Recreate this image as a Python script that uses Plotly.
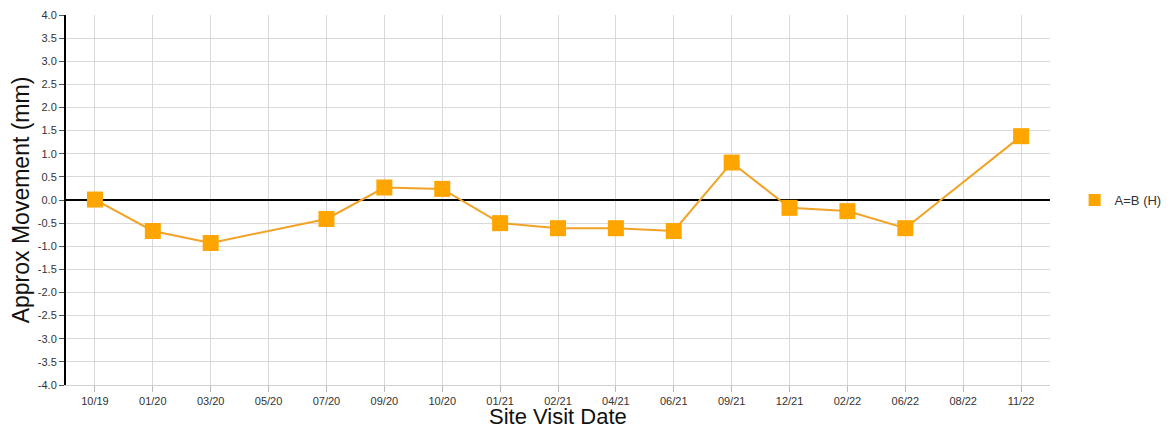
import plotly.graph_objects as go

categories = ["10/19", "01/20", "03/20", "05/20", "07/20", "09/20", "10/20", "01/21",
              "02/21", "04/21", "06/21", "09/21", "12/21", "02/22", "06/22", "08/22", "11/22"]
values = [0.01, -0.67, -0.93, None, -0.41, 0.27, 0.24, -0.50,
          -0.61, -0.61, -0.67, 0.81, -0.17, -0.24, -0.61, None, 1.38]
y_ticks = [-4.0 + 0.5 * i for i in range(17)]
y_ticktext = ["%.1f" % v for v in y_ticks]
series_name = "A=B (H)"
x_title = "Site Visit Date"
y_title = "Approx Movement (mm)"

fig = go.Figure()
fig.add_trace(go.Scatter(
    x=categories, y=values, name=series_name, mode="lines+markers",
    connectgaps=True, showlegend=False,
    line=dict(color="#F2A227", width=2),
    marker=dict(symbol="square", size=16, color="#FFA500"),
))
# legend entry (marker only, as in the reference)
fig.add_trace(go.Scatter(
    x=[None], y=[None], name=series_name, mode="markers",
    marker=dict(symbol="square", size=16, color="#FFA500"),
))

# page body has an 8px margin; figure sized so the page is exactly 1173x435
fig.update_layout(
    width=1157, height=419,
    margin=dict(l=58, r=115, t=7, b=42, autoexpand=False),
    paper_bgcolor="white", plot_bgcolor="white",
    font=dict(family="Liberation Sans, Arial, sans-serif", color="#333"),
    showlegend=True,
    legend=dict(x=1.025, y=0.5, xanchor="left", yanchor="middle",
                font=dict(size=13, color="#333"), itemsizing="constant"),
    xaxis=dict(
        type="category", categoryorder="array", categoryarray=categories,
        range=[-0.5, 16.5], automargin=False,
        showgrid=True, gridcolor="#D9D9D9", gridwidth=1,
        showline=True, linecolor="#D0D0D0", linewidth=1,
        ticks="outside", ticklen=6, tickcolor="#BBBBBB",
        tickfont=dict(size=11, color="#333"),
        zeroline=False,
    ),
    yaxis=dict(
        range=[-4, 4], tickvals=y_ticks, ticktext=y_ticktext, automargin=False,
        showgrid=True, gridcolor="#D9D9D9", gridwidth=1,
        showline=True, linecolor="#000", linewidth=2,
        ticks="outside", ticklen=5, tickcolor="#555",
        tickfont=dict(size=11, color="#333"),
        title=dict(text=y_title, font=dict(size=23, color="#111"), standoff=6),
        zeroline=True, zerolinecolor="#000", zerolinewidth=2,
    ),
    annotations=[dict(
        text=x_title, xref="paper", yref="paper", x=0.5, y=-0.085,
        xanchor="center", yanchor="middle", showarrow=False,
        font=dict(size=22, color="#111"),
    )],
)

fig.write_html("out.html")
